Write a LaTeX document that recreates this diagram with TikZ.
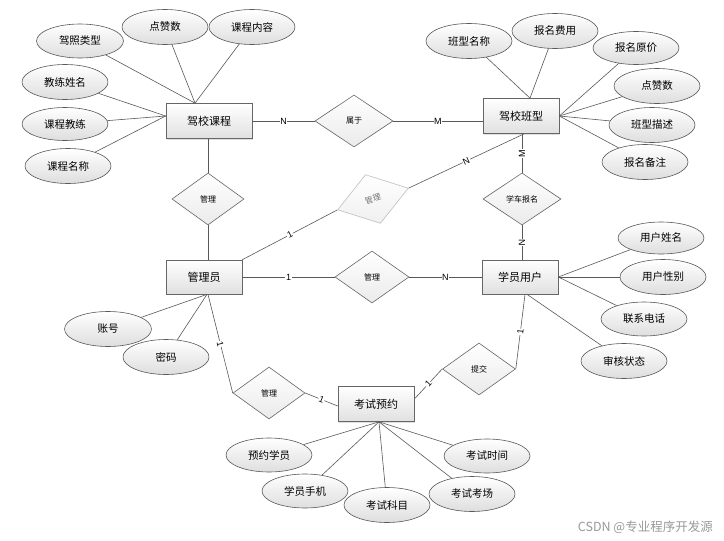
\documentclass[tikz,border=0pt]{standalone}
\usepackage{fontspec}
\newfontfamily\cjk{Noto Sans CJK SC}
\newfontfamily\latin{Liberation Sans}
\usetikzlibrary{shapes.geometric,calc,shadows}
\begin{document}
\begin{tikzpicture}[x=1pt,y=-1pt,
  line/.style={draw=black!65,line width=0.6pt},
  entity/.style={rectangle,draw=black!60,line width=0.7pt,top color=white,bottom color=black!12,
    minimum width=76pt,minimum height=35pt,inner sep=0pt,font=\cjk\fontsize{11}{11}\selectfont,
    drop shadow={opacity=0.25,shadow xshift=1.2pt,shadow yshift=-1.2pt}},
  attr/.style={ellipse,draw=black!65,line width=0.6pt,top color=white,bottom color=black!13,
    minimum width=86pt,minimum height=34pt,inner sep=0pt,font=\cjk\fontsize{10.5}{10.5}\selectfont},
  rel/.style={diamond,draw=black!60,line width=0.6pt,top color=white,bottom color=black!8,
    minimum width=74pt,minimum height=52pt,inner sep=0pt,font=\cjk\fontsize{8}{8}\selectfont},
  card/.style={fill=white,inner sep=0.6pt,sloped,font=\latin\fontsize{9}{9}\selectfont}]
\useasboundingbox (0,0) rectangle (724,541);
\fill[white] (0,0) rectangle (724,541);

% entities
\node[entity,minimum width=86pt] (kc) at (209,121) {驾校课程};
\node[entity] (bx) at (521,116) {驾校班型};
\node[entity,minimum height=34pt] (gly) at (204,277) {管理员};
\node[entity,minimum height=34pt] (xy) at (520,277) {学员用户};
\node[entity] (yy) at (376,404) {考试预约};

% relations
\node[rel,minimum width=78pt] (sy) at (354,121) {属于};
\node[rel,minimum width=72pt] (gl1) at (208,199) {管理};
\node[rel,rotate=17,draw=black!25,top color=white,bottom color=black!6,text=black!55,minimum height=51pt] (gl2) at (373,199) {管理};
\node[rel,minimum width=78pt] (xc) at (522,199) {学车报名};
\node[rel] (gl3) at (372,277) {管理};
\node[rel,minimum width=72pt] (gl4) at (269,393) {管理};
\node[rel,minimum width=73pt] (tj) at (479,369) {提交};

% attributes of 驾校课程
\node[attr,minimum width=87pt] (a1) at (80,41) {驾照类型};
\node[attr,minimum height=35pt] (a2) at (165,27) {点赞数};
\node[attr,minimum height=35pt] (a3) at (252,27) {课程内容};
\node[attr,minimum height=35pt] (a4) at (65,82) {教练姓名};
\node[attr,minimum height=33pt] (a5) at (65,124) {课程教练};
\node[attr,minimum height=35pt] (a6) at (68,166) {课程名称};
\coordinate (kctop) at ($(kc.north)+(-14,0)$);
\coordinate (kcleft) at ($(kc.west)+(0,-5)$);
\foreach \n in {a1,a2,a3} \draw[line] (\n) -- (kctop);
\foreach \n in {a4,a5,a6} \draw[line] (\n) -- (kcleft);

% attributes of 驾校班型
\node[attr,minimum height=35pt] (b1) at (469,41) {班型名称};
\node[attr,minimum height=35pt] (b2) at (555,31) {报名费用};
\node[attr,minimum height=33pt] (b3) at (636,48) {报名原价};
\node[attr,minimum height=35pt] (b4) at (657,86) {点赞数};
\node[attr,minimum height=35pt] (b5) at (652,125) {班型描述};
\node[attr,minimum height=35pt] (b6) at (645,162) {报名备注};
\coordinate (bxtop) at ($(bx.north)+(9,0)$);
\foreach \n in {b1,b2} \draw[line] (\n) -- (bxtop);
\foreach \n in {b3,b4,b5,b6} \draw[line] (\n) -- (bx.east);

% attributes of 学员用户
\node[attr,minimum height=32pt] (c1) at (661,238) {用户姓名};
\node[attr,minimum height=35pt] (c2) at (663,277) {用户性别};
\node[attr,minimum height=34pt] (c3) at (644,319) {联系电话};
\node[attr,minimum height=35pt] (c4) at (624,361) {审核状态};
\foreach \n in {c1,c2,c3} \draw[line] (\n) -- (xy.east);
\draw[line] (c4) -- ($(xy.south)+(7,0)$);

% attributes of 管理员
\node[attr,minimum width=87pt,minimum height=35pt] (d1) at (108,329) {账号};
\node[attr,minimum height=35pt] (d2) at (166,357) {密码};
\foreach \n in {d1,d2} \draw[line] (\n) -- ($(gly.south)+(3,0)$);

% attributes of 考试预约
\node[attr,minimum height=34pt] (e1) at (269,455) {预约学员};
\node[attr,minimum height=34pt] (e2) at (305,491) {学员手机};
\node[attr,minimum height=35pt] (e3) at (387,505) {考试科目};
\node[attr,minimum height=34pt] (e4) at (487,456) {考试时间};
\node[attr,minimum height=35pt] (e5) at (472,494) {考试考场};
\foreach \n in {e1,e2,e3,e4,e5} \draw[line] (\n) -- ($(yy.south)+(3,0)$);

% relationship connectors
\draw[line] (kc.east) -- node[card] {N} (sy.west);
\draw[line] (sy.east) -- node[card] {M} ($(bx.west)+(0,5)$);
\draw[line] (gl1.north) -- (gl1.north |- kc.south);
\draw[line] (gl1.south) -- (gl1.south |- gly.north);
\draw[line] (gly.north east) -- node[card] {1} (gl2.west);
\draw[line] (gl2.east) -- node[card] {N} ($(bx.south)+(3,0)$);
\draw[line] (xc.north) -- node[card] {M} (xc.north |- bx.south);
\draw[line] (xc.south) -- node[card] {N} (xc.south |- xy.north);
\draw[line] (gly.east) -- node[card] {1} (gl3.west);
\draw[line] (gl3.east) -- node[card] {N} (xy.west);
\draw[line] ($(gly.south)+(4,0)$) -- node[card] {1} (gl4.west);
\draw[line] (gl4.east) -- node[card] {1} ($(yy.west)+(0,2)$);
\draw[line] ($(yy.east)+(0,-5)$) -- node[card] {1} (tj.west);
\draw[line] (tj.east) -- node[card] {1} ($(xy.south)+(5,0)$);

% watermark
\node[font=\cjk\fontsize{12.5}{12.5}\selectfont,text=black!40,anchor=east,inner sep=0pt] (wm) at (713,527) {CSDN @专业程序开发源};
\end{tikzpicture}
\end{document}
